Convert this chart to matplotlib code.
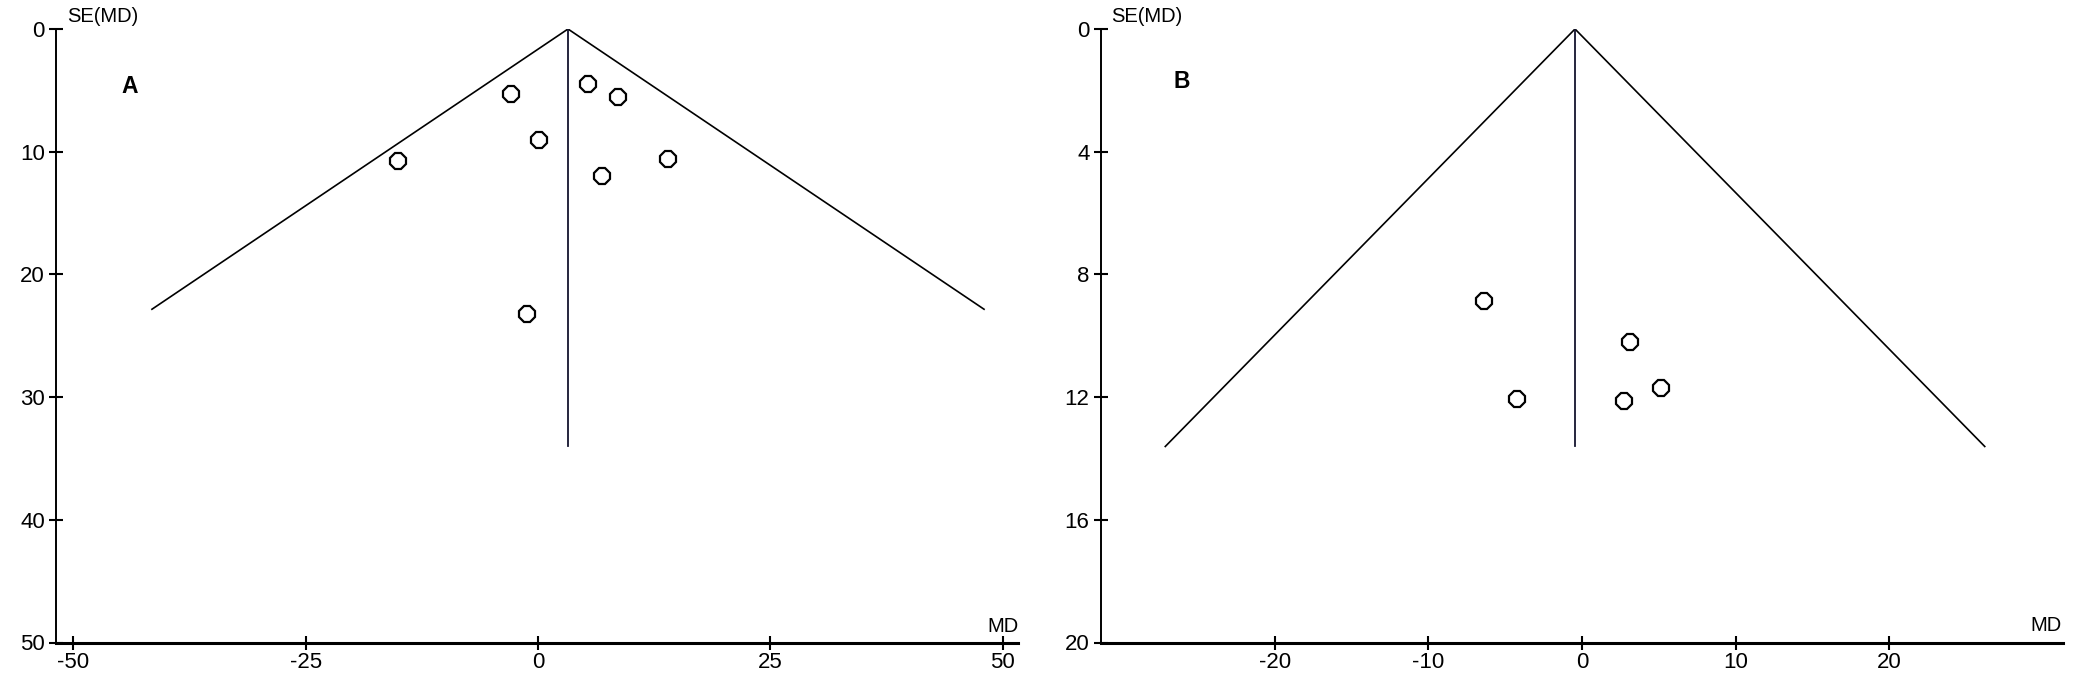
import numpy as np
import matplotlib
matplotlib.use("Agg")
import matplotlib.pyplot as plt

plt.rcParams['font.family'] = ['Liberation Sans', 'DejaVu Sans']
plt.rcParams['axes.unicode_minus'] = False

# panel A
md_a = [-15.07, -2.86, 0.15, 5.38, 8.61, 6.89, 14.04, -1.18]
se_a = [10.73, 5.32, 9.02, 4.48, 5.52, 12.0, 10.6, 23.25]
pooled_a = 3.23
funnel_se_a = 22.84
vline_se_a = 34.0
xticks_a = [-50, -25, 0, 25, 50]
yticks_a = [0, 10, 20, 30, 40, 50]

# panel B
md_b = [-6.37, 3.16, -4.22, 2.77, 5.18]
se_b = [8.86, 10.21, 12.05, 12.12, 11.7]
pooled_b = -0.45
funnel_se_b = 13.61
vline_se_b = 13.61
xticks_b = [-20, -10, 0, 10, 20]
yticks_b = [0, 4, 8, 12, 16, 20]

line_col = '#14142e'

fig = plt.figure(figsize=(20.79, 7), dpi=100)
ax1 = fig.add_axes([56/2079, 1 - 642.5/700, 962/2079, 613.5/700])
ax2 = fig.add_axes([1100.7/2079, 1 - 642.5/700, 962/2079, 613.5/700])


def funnel(ax, md, se, pooled, fse, vse, xlim, ylim, xticks, yticks, letter, lpos, mdpos):
    z = 1.96
    ax.plot([pooled - z*fse, pooled, pooled + z*fse], [fse, 0, fse], color='black', lw=1.2)
    ax.plot([pooled, pooled], [0, vse], color=line_col, lw=1.3)
    ax.plot(md, se, linestyle='none', marker='8', ms=12, mfc='white', mec='black', mew=1.6)
    ax.set_xlim(*xlim)
    ax.set_ylim(*ylim)
    ax.set_xticks(xticks)
    ax.set_yticks(yticks)
    ax.spines['top'].set_visible(False)
    ax.spines['right'].set_visible(False)
    ax.spines['left'].set_linewidth(1.4)
    ax.spines['bottom'].set_linewidth(2.2)
    ax.tick_params(axis='y', direction='inout', length=10, width=1.5, labelsize=16, pad=3)
    ax.tick_params(axis='x', direction='inout', length=10, width=1.5, labelsize=16, pad=2)
    ax.text(0.0111, 1.0196, 'SE(MD)', transform=ax.transAxes, fontsize=14.5, va='center', ha='left')
    ax.text(mdpos[0], mdpos[1], 'MD', transform=ax.transAxes, fontsize=14.5, va='center', ha='center')
    ax.text(lpos[0], lpos[1], letter, transform=ax.transAxes, fontsize=16.5, fontweight='bold',
            va='center', ha='center')


funnel(ax1, md_a, se_a, pooled_a, funnel_se_a, vline_se_a, (-51.86, 51.65), (50, 0),
       xticks_a, yticks_a, 'A', (0.0769, 0.9055), (0.984, 0.0253))
funnel(ax2, md_b, se_b, pooled_b, funnel_se_b, vline_se_b, (-31.33, 31.3), (20, 0),
       xticks_b, yticks_b, 'B', (0.0842, 0.914), (0.9826, 0.027))

fig.savefig('out.png', dpi=100)
